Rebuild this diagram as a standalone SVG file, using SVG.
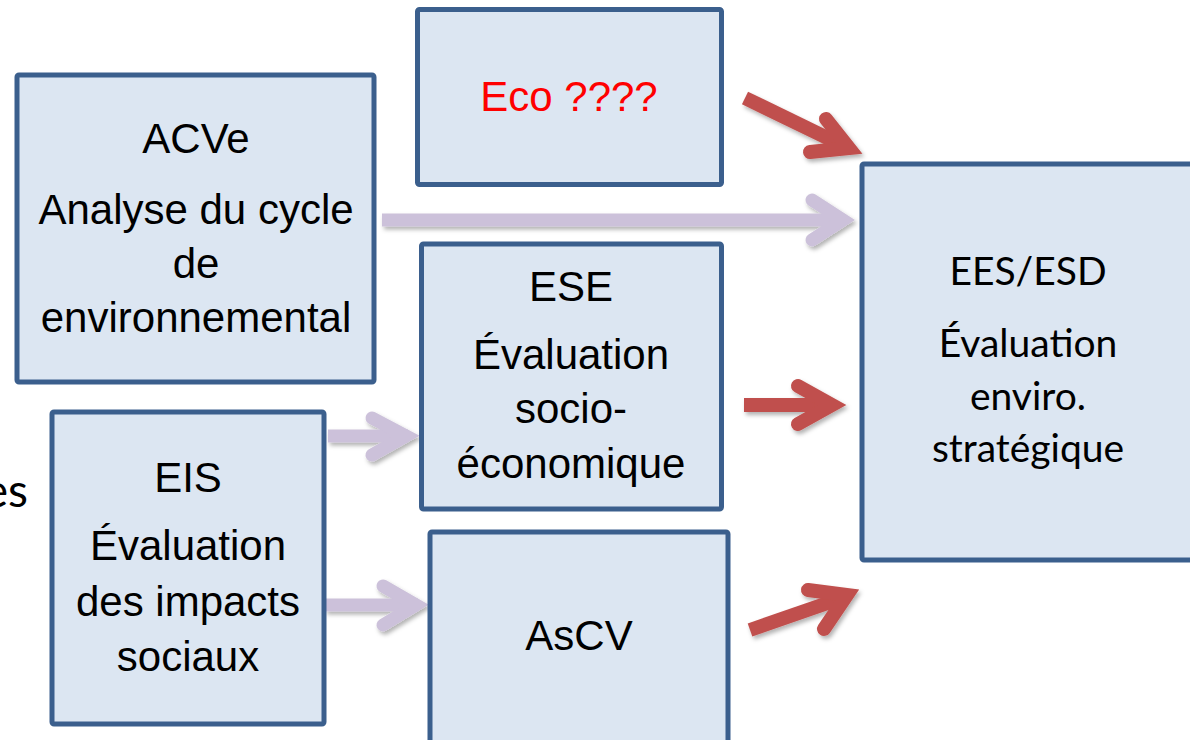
<svg xmlns="http://www.w3.org/2000/svg" width="1190" height="740" viewBox="0 0 1190 740">
<defs>
<filter id="sh" x="-20%" y="-20%" width="140%" height="160%">
<feDropShadow dx="2" dy="3" stdDeviation="2" flood-color="#000" flood-opacity="0.3"/>
</filter>
</defs>
<style>
.box{fill:#DCE6F2;stroke:#3B5F8D;stroke-width:5;}
.t{font-family:"Liberation Sans",Arial,sans-serif;font-size:42px;fill:#000;text-anchor:middle;}
.c{font-family:Lato,"Open Sans",sans-serif;font-size:39px;fill:#000;text-anchor:middle;}
.lav{fill:none;stroke:#CCC1DA;stroke-width:13;stroke-linecap:round;stroke-linejoin:miter;stroke-miterlimit:10;}
.red{fill:none;stroke:#C0504D;stroke-width:14;stroke-linecap:round;stroke-linejoin:miter;stroke-miterlimit:10;}
.shaft{stroke-linecap:butt;}
</style>
<rect width="1190" height="740" fill="#fff"/>
<text class="c" x="28" y="507" style="text-anchor:end;font-size:46px">es</text>
<g id="connectors" filter="url(#sh)">
<path class="lav shaft" d="M382 220 H842"/>
<path class="lav" d="M812 200 L843 220 L812 240"/>
<path class="lav shaft" d="M328 436 H408"/>
<path class="lav" d="M372 418 L406 436 L372 455"/>
<path class="lav shaft" d="M325 605 H418"/>
<path class="lav" d="M383 586 L416 605 L383 625"/>
<path class="red shaft" d="M745 98 L846 147"/>
<path class="red" d="M826 119 L849 148 L810 152"/>
<path class="red shaft" d="M744 405 H830"/>
<path class="red" d="M798 386 L832 405 L798 424"/>
<path class="red shaft" d="M750 630 L845 597"/>
<path class="red" d="M808 590 L847 595 L824 629"/>
</g>
<g id="eco">
<rect class="box" x="417.5" y="9.5" width="304" height="175" rx="2"/>
<text class="t" x="569" y="111" style="fill:#FF0000">Eco ????</text>
</g>
<g id="acve">
<rect class="box" x="17" y="75" width="357" height="307" rx="2"/>
<text class="t" x="196" y="153">ACVe</text>
<text class="t" x="196" y="224">Analyse du cycle</text>
<text class="t" x="196" y="278">de</text>
<text class="t" x="196" y="332">environnemental</text>
</g>
<g id="ese">
<rect class="box" x="421.5" y="244" width="300" height="265" rx="2"/>
<text class="t" x="571" y="301">ESE</text>
<text class="t" x="571" y="369">Évaluation</text>
<text class="t" x="571" y="423">socio-</text>
<text class="t" x="571" y="478">économique</text>
</g>
<g id="eis">
<rect class="box" x="52" y="412" width="272" height="312" rx="2"/>
<text class="t" x="188" y="492">EIS</text>
<text class="t" x="188" y="560">Évaluation</text>
<text class="t" x="188" y="616">des impacts</text>
<text class="t" x="188" y="671">sociaux</text>
</g>
<g id="ascv">
<rect class="box" x="430" y="532" width="298" height="230" rx="2"/>
<text class="t" x="579" y="650">AsCV</text>
</g>
<g id="ees">
<rect class="box" x="862" y="164" width="340" height="396" rx="2"/>
<text class="c" x="1028" y="285">EES/ESD</text>
<text class="c" x="1028" y="357">Évaluation</text>
<text class="c" x="1028" y="410">enviro.</text>
<text class="c" x="1028" y="462">stratégique</text>
</g>
</svg>
